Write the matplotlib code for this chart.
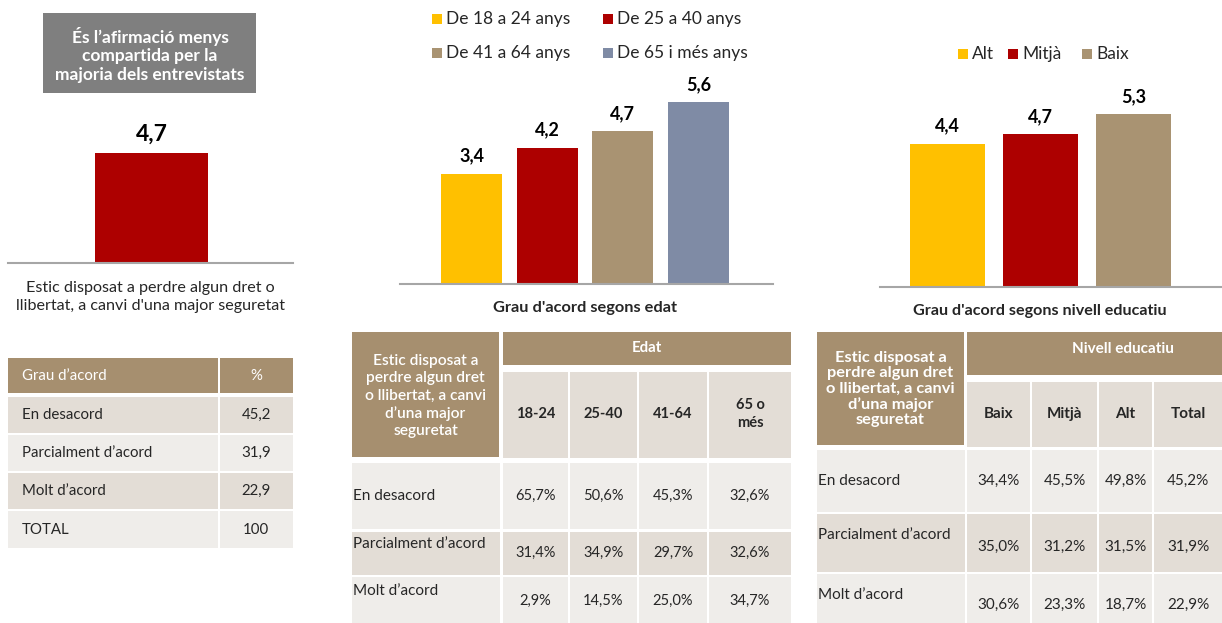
import matplotlib.pyplot as plt
from matplotlib.patches import Rectangle

plt.rcParams['font.family'] = ['Lato', 'DejaVu Sans']

# data
total_label = ["Estic disposat a perdre algun dret o\nllibertat, a canvi d'una major seguretat"]
total_value = [4.7]
age_labels = ['De 18 a 24 anys', 'De 25 a 40 anys', 'De 41 a 64 anys', 'De 65 i més anys']
age_values = [3.4, 4.2, 4.7, 5.6]
edu_labels = ['Alt', 'Mitjà', 'Baix']
edu_values = [4.4, 4.7, 5.3]
agree_rows = ['En desacord', 'Parcialment d’acord', 'Molt d’acord']
total_rows = ['En desacord', 'Parcialment d’acord', 'Molt d’acord', 'TOTAL']
total_pct = ['45,2', '31,9', '22,9', '100']
age_cols = ['18-24', '25-40', '41-64', '65 o\nmés']
age_pct = [[65.7, 50.6, 45.3, 32.6],
           [31.4, 34.9, 29.7, 32.6],
           [2.9, 14.5, 25.0, 34.7]]
edu_cols = ['Baix', 'Mitjà', 'Alt', 'Total']
edu_pct = [[34.4, 45.5, 49.8, 45.2],
           [35.0, 31.2, 31.5, 31.9],
           [30.6, 23.3, 18.7, 22.9]]

YELLOW, RED, TAN, BLUE = '#ffc000', '#ad0000', '#a99372', '#7f8ba5'
HEAD = '#a68f6f'
DARK = '#e3ddd6'
LIGHT = '#efedea'
TXT = '#262626'
QUESTION = 'Estic disposat a\nperdre algun dret\no llibertat, a canvi\nd’una major\nseguretat'

W, H = 1222, 623
fig = plt.figure(figsize=(W / 100, H / 100), dpi=100)

# overlay in pixel coords for boxes / tables
bg = fig.add_axes([0, 0, 1, 1])
bg.set_xlim(0, W)
bg.set_ylim(H, 0)
bg.axis('off')


def px_axes(x0, x1, base, top):
    return fig.add_axes([x0 / W, (H - base) / H, (x1 - x0) / W, (base - top) / H],
                        facecolor='none')


def fmt(v):
    return f'{v:.1f}'.replace('.', ',') + '%'


def cell(x0, y0, x1, y1, color):
    bg.add_patch(Rectangle((x0, y0), x1 - x0, y1 - y0, color=color, lw=0))


def bar_panel(x0, x1, base, centre0, step, width, ppu, values, colors, fs, pad):
    top = 40
    ax = px_axes(x0, x1, base, top)
    ax.set_xlim((x0 - centre0) / step, (x1 - centre0) / step)
    ax.set_ylim(0, (base - top) / ppu)
    bars = ax.bar(range(len(values)), values, width=width / step, color=colors)
    for b, v in zip(bars, values):
        ax.annotate(f'{v:.1f}'.replace('.', ','), (b.get_x() + b.get_width() / 2, v),
                    xytext=(0, pad), textcoords='offset pixels', ha='center',
                    va='bottom', fontsize=fs, fontweight='bold', color='black')
    for s in ['top', 'left', 'right']:
        ax.spines[s].set_visible(False)
    ax.spines['bottom'].set_color('#a6a6a6')
    ax.spines['bottom'].set_linewidth(1.5)
    ax.set_xticks([])
    ax.set_yticks([])
    return ax


# ---- left panel
cell(43, 13, 256, 93, '#7f7f7f')
bg.text(150, 55, 'És l’afirmació menys\ncompartida per la\nmajoria dels entrevistats',
        ha='center', va='center', color='white', fontsize=12.5, fontweight='bold',
        linespacing=1.2)
bar_panel(8, 293, 263, 151.5, 113, 113, 23.4, total_value, [RED], 16.5, 8)
bg.text(150, 297, total_label[0], ha='center', va='center', fontsize=11.6,
        color=TXT, linespacing=1.4)

# left table
cell(8, 358, 218, 393, HEAD)
cell(220, 358, 293, 393, HEAD)
bg.text(22, 375.5, 'Grau d’acord', ha='left', va='center', color='white', fontsize=10.8)
bg.text(256, 375.5, '%', ha='center', va='center', color='white', fontsize=10.8)
row_y = [(397, 433), (435, 471), (473, 509), (511, 548)]
for i, ((a, b), lab, val) in enumerate(zip(row_y, total_rows, total_pct)):
    c = DARK if i % 2 == 0 else LIGHT
    cell(8, a, 218, b, c)
    cell(220, a, 293, b, c)
    bg.text(22, (a + b) / 2, lab, ha='left', va='center', color=TXT, fontsize=10.8)
    bg.text(256, (a + b) / 2, val, ha='center', va='center', color=TXT, fontsize=10.8)

# ---- middle panel (age)
bar_panel(400, 773, 284, 471.5, 75.67, 61, 32.5, age_values,
          [YELLOW, RED, TAN, BLUE], 13, 9)
leg_pos = [(432, 19), (603, 19), (432, 53), (603, 53)]
for (x, y), lab, c in zip(leg_pos, age_labels, [YELLOW, RED, TAN, BLUE]):
    cell(x, y - 5, x + 10, y + 5, c)
    bg.text(x + 14, y, lab, ha='left', va='center', fontsize=12.5, color=TXT)
bg.text(585, 308, "Grau d'acord segons edat", ha='center', va='center',
        fontsize=11.8, fontweight='bold', color=TXT)

cell(352, 332, 499, 457, HEAD)
bg.text(425.5, 396, QUESTION, ha='center', va='center', color='white', fontsize=11.2,
        fontweight='semibold', linespacing=1.3)
cell(503, 332, 791, 365, HEAD)
bg.text(647, 348, 'Edat', ha='center', va='center', color='white', fontsize=10.8,
        fontweight='bold')
age_x = [(503, 568), (570, 637), (639, 707), (709, 791)]
for (a, b), lab in zip(age_x, age_cols):
    cell(a, 372, b, 458, DARK)
    bg.text((a + b) / 2, 414, lab, ha='center', va='center', color=TXT, fontsize=10.5,
            fontweight='bold', linespacing=1.35)
mrows = [(463, 529, 496, 496, LIGHT), (532, 575, 544, 553, DARK), (577, 623, 591, 601, LIGHT)]
for (a, b, ly, vy, c), lab, vals in zip(mrows, agree_rows, age_pct):
    cell(352, a, 500, b, c)
    bg.text(353, ly, lab, ha='left', va='center', color=TXT, fontsize=11)
    for (xa, xb), v in zip(age_x, vals):
        cell(xa, a, xb, b, c)
        bg.text((xa + xb) / 2, vy, fmt(v), ha='center', va='center', color=TXT,
                fontsize=10.5)

# ---- right panel (education)
bar_panel(880, 1222, 287, 947.5, 93, 75, 32.6, edu_values, [YELLOW, RED, TAN], 13, 9)
leg_pos = [(958, 54), (1008, 54), (1082, 54)]
for (x, y), lab, c in zip(leg_pos, edu_labels, [YELLOW, RED, TAN]):
    cell(x, y - 5, x + 10, y + 5, c)
    bg.text(x + 14, y, lab, ha='left', va='center', fontsize=12.5, color=TXT)
bg.text(1040, 311, 'Grau d\'acord segons nivell educatiu', ha='center', va='center',
        fontsize=11.6, fontweight='bold', color=TXT)

cell(817, 332, 964, 445, HEAD)
bg.text(890.5, 389, QUESTION, ha='center', va='center', color='white', fontsize=11.8,
        fontweight='bold', linespacing=1.12)
cell(967, 332, 1222, 375, HEAD)
bg.text(1123, 349, 'Nivell educatiu', ha='center', va='center', color='white',
        fontsize=11, fontweight='bold')
edu_x = [(967, 1030), (1032, 1097), (1099, 1152), (1154, 1222)]
for (a, b), lab in zip(edu_x, edu_cols):
    cell(a, 382, b, 447, DARK)
    bg.text((a + b) / 2, 414, lab, ha='center', va='center', color=TXT, fontsize=11,
            fontweight='bold')
erows = [(450, 512, 481, 481, LIGHT), (514, 572, 535, 547, DARK), (574, 623, 595, 605, LIGHT)]
for (a, b, ly, vy, c), lab, vals in zip(erows, agree_rows, edu_pct):
    cell(817, a, 965, b, c)
    bg.text(818, ly, lab, ha='left', va='center', color=TXT, fontsize=11)
    for (xa, xb), v in zip(edu_x, vals):
        cell(xa, a, xb, b, c)
        bg.text((xa + xb) / 2, vy, fmt(v), ha='center', va='center', color=TXT,
                fontsize=11)

fig.savefig('out.png', dpi=100)
